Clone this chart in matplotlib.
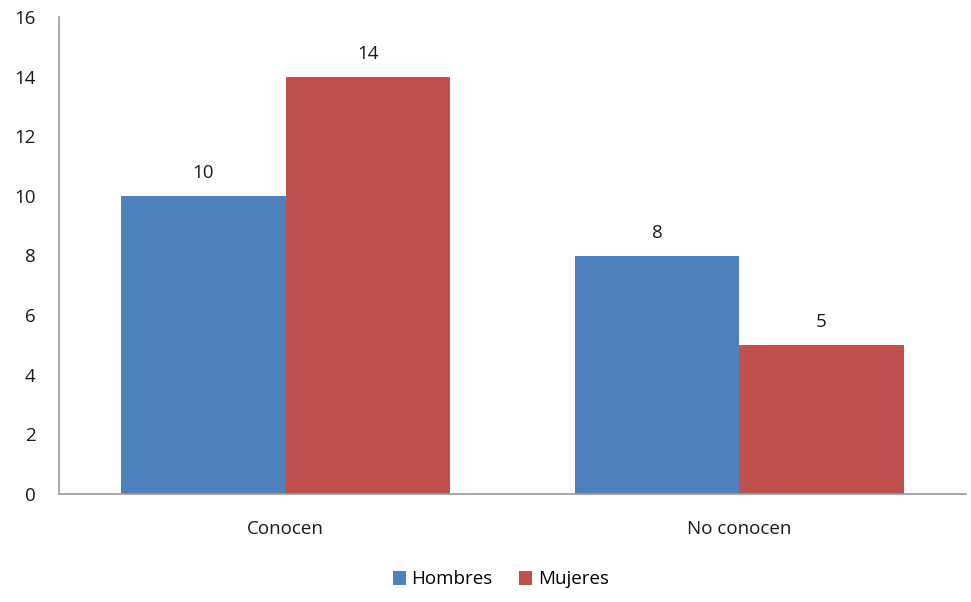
import matplotlib.pyplot as plt
import numpy as np

categories = ['Conocen', 'No conocen']
hombres = [10, 8]
mujeres = [14, 5]

plt.rcParams['font.family'] = ['Open Sans', 'DejaVu Sans']

fig = plt.figure(figsize=(9.71, 6.02), dpi=100)
ax = fig.add_axes([59 / 971, 1 - 494 / 602, (966 - 59) / 971, (494 - 17) / 602])

x = np.arange(len(categories))
w = 0.363
b1 = ax.bar(x - w / 2, hombres, w, color='#4f81bd', label='Hombres')
b2 = ax.bar(x + w / 2, mujeres, w, color='#c0504d', label='Mujeres')
for bars in (b1, b2):
    ax.bar_label(bars, padding=10, fontsize=13.5, color='#1a1a1a')

ax.set_xlim(-0.5, 1.5)
ax.set_ylim(0, 16)
ax.set_yticks(range(0, 17, 2))
ax.set_xticks(x)
ax.set_xticklabels(categories)
ax.tick_params(length=0, labelsize=13.5, colors='#1a1a1a')
ax.tick_params(axis='x', pad=19)
ax.tick_params(axis='y', pad=17)
for s in ('top', 'right'):
    ax.spines[s].set_visible(False)
for s in ('left', 'bottom'):
    ax.spines[s].set_color('#999999')
    ax.spines[s].set_linewidth(1.2)

ax.legend(loc='upper center', bbox_to_anchor=(0.487, -0.125), ncol=2, frameon=False,
          fontsize=13.5, handlelength=0.7, handleheight=0.7, handletextpad=0.3,
          columnspacing=1.4)

plt.savefig('out.png', dpi=100)
